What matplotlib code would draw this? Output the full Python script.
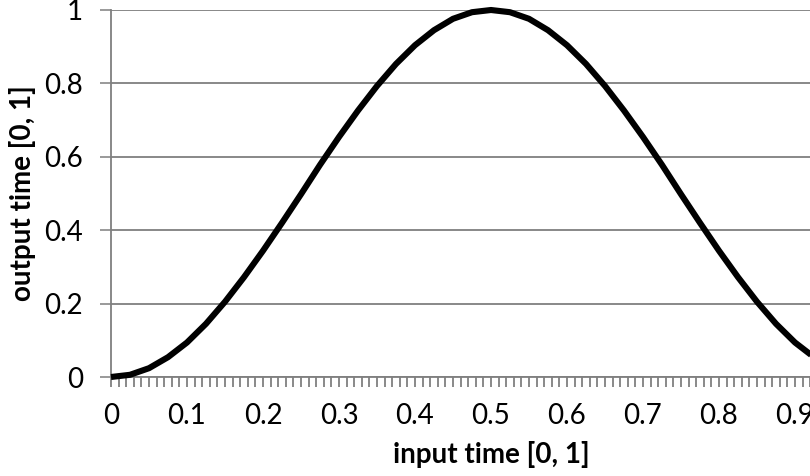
import matplotlib.pyplot as plt
from matplotlib.ticker import MultipleLocator

# curve (input time -> output time)
input_time = [0.0, 0.025, 0.05, 0.075, 0.1, 0.125, 0.15, 0.175, 0.2, 0.225,
              0.25, 0.275, 0.3, 0.325, 0.35, 0.375, 0.4, 0.425, 0.45, 0.475,
              0.5, 0.525, 0.55, 0.575, 0.6, 0.625, 0.65, 0.675, 0.7, 0.725,
              0.75, 0.775, 0.8, 0.825, 0.85, 0.875, 0.9, 0.925, 0.95, 0.975, 1.0]
output_time = [0.0, 0.006, 0.024, 0.054, 0.094, 0.145, 0.205, 0.272, 0.344, 0.42,
               0.498, 0.578, 0.654, 0.726, 0.793, 0.853, 0.904, 0.945, 0.976, 0.994,
               1.0, 0.994, 0.976, 0.945, 0.904, 0.853, 0.793, 0.726, 0.654, 0.578,
               0.498, 0.42, 0.344, 0.272, 0.205, 0.145, 0.094, 0.054, 0.024, 0.006, 0.0]
x_ticks = [0, 0.1, 0.2, 0.3, 0.4, 0.5, 0.6, 0.7, 0.8, 0.9, 1.0]
x_tick_labels = ['0', '0.1', '0.2', '0.3', '0.4', '0.5', '0.6', '0.7', '0.8', '0.9', '1']
y_ticks = [0, 0.2, 0.4, 0.6, 0.8, 1.0]
y_tick_labels = ['0', '0.2', '0.4', '0.6', '0.8', '1']

plt.rcParams['font.family'] = ['Lato', 'DejaVu Sans']
grey = '#7f7f7f'

fig = plt.figure(figsize=(8.1, 4.76), dpi=100)
# axes runs past the right edge, the reference is cropped there
ax = fig.add_axes([111 / 810, 99 / 476, 760 / 810, 367 / 476])

ax.plot(input_time, output_time, color='black', linewidth=4.4,
        solid_capstyle='butt', solid_joinstyle='round', clip_on=False, zorder=3)

ax.set_xlim(0, 1)
ax.set_ylim(0, 1)

ax.set_xticks(x_ticks)
ax.set_xticklabels(x_tick_labels)
ax.xaxis.set_minor_locator(MultipleLocator(0.01))
ax.set_yticks(y_ticks)
ax.set_yticklabels(y_tick_labels)

ax.tick_params(axis='x', which='both', direction='out', length=7, width=1.1,
               color='#6a6a6a', labelsize=20, pad=12)
ax.tick_params(axis='y', which='major', direction='out', length=8, width=1.1,
               color=grey, labelsize=20, pad=12)

ax.yaxis.grid(True, color=grey, linewidth=1.3)
ax.set_axisbelow(True)

for side in ['top', 'right']:
    ax.spines[side].set_visible(False)
for side in ['left', 'bottom']:
    ax.spines[side].set_color(grey)
    ax.spines[side].set_linewidth(1.3)

ax.set_xlabel('input time [0, 1]', fontsize=20, fontweight='bold', labelpad=8)
ax.set_ylabel('output time [0, 1]', fontsize=20, fontweight='bold', labelpad=6)

fig.savefig('out.png', dpi=100)
